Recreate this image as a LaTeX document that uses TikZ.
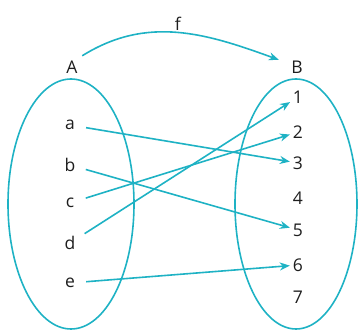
\documentclass[tikz,border=0pt]{standalone}
\usepackage{fontspec}
\setmainfont{Open Sans}
\usetikzlibrary{arrows.meta}
\definecolor{maplink}{RGB}{30,178,196}
\definecolor{maptext}{RGB}{30,30,30}

\begin{document}
\begin{tikzpicture}[x=1pt,y=1pt,
    setline/.style={draw=maplink,line width=1.6pt},
    maparrow/.style={maplink,line width=1.6pt,-{Stealth[length=10pt,width=8pt]}},
    elem/.style={text=maptext,font=\fontsize{17.5}{20}\selectfont,inner sep=0pt,minimum width=12pt,minimum height=16pt},
    setname/.style={elem,font=\fontsize{17.5}{20}\selectfont}]
  \useasboundingbox (0,0) rectangle (360,332);

  % the two sets
  \draw[setline] (71,128) ellipse [x radius=63,y radius=125];
  \draw[setline] (296,128) ellipse [x radius=61,y radius=125];

  \node[setname] (A) at (72,265) {A};
  \node[setname] (B) at (297,265) {B};

  % elements of A
  \node[elem] (a) at (70,207) {a};
  \node[elem] (b) at (70,167) {b};
  \node[elem] (c) at (70,129) {c};
  \node[elem] (d) at (70,89) {d};
  \node[elem] (e) at (70,49) {e};

  % elements of B
  \node[elem] (n1) at (298,235) {1};
  \node[elem] (n2) at (298,200) {2};
  \node[elem] (n3) at (298,169) {3};
  \node[elem] (n4) at (298,134) {4};
  \node[elem] (n5) at (298,102) {5};
  \node[elem] (n6) at (298,67) {6};
  \node[elem] (n7) at (298,35) {7};

  % the map f
  \draw[maparrow] (A.north east) ++(4,3) coordinate (fstart)
    (fstart) to[out=32,in=160] node[above=0pt,elem] (f) {f} ([xshift=-12pt,yshift=-1pt]B.north west);

  \draw[maparrow,shorten <=10pt,shorten >=2pt] (a) -- (n3);
  \draw[maparrow,shorten <=10pt,shorten >=2pt] (b) -- (n5);
  \draw[maparrow,shorten <=10pt,shorten >=2pt] (c) -- (n2);
  \draw[maparrow,shorten <=10pt,shorten >=2pt] (d) -- (n1);
  \draw[maparrow,shorten <=10pt,shorten >=2pt] (e) -- (n6);
\end{tikzpicture}
\end{document}
